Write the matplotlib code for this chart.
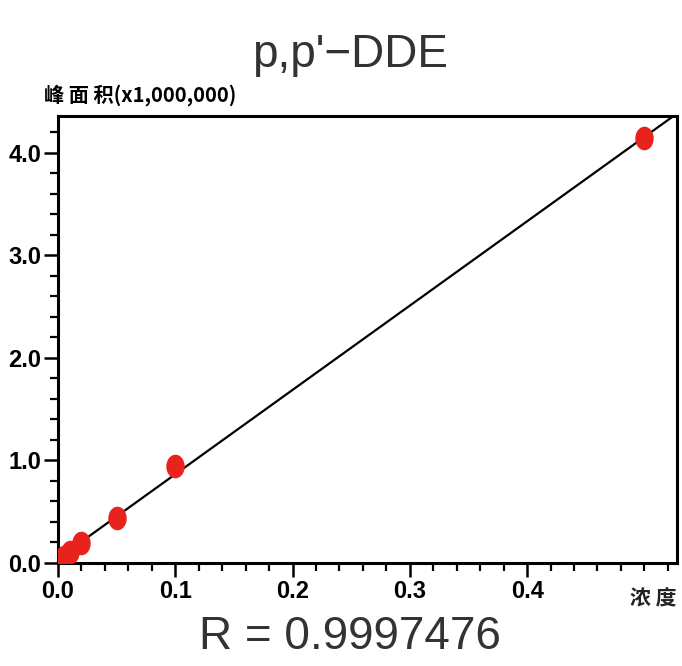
import numpy as np
import matplotlib
matplotlib.use("Agg")
import matplotlib.pyplot as plt
from matplotlib.path import Path
from matplotlib.transforms import Affine2D
from matplotlib.ticker import MultipleLocator, FormatStrFormatter

# calibration data: concentration vs. peak area (x1,000,000)
concentration = [0.005, 0.01, 0.02, 0.05, 0.1, 0.5]
peak_area = [0.06, 0.11, 0.19, 0.44, 0.95, 4.14]
x_ticks = [0.0, 0.1, 0.2, 0.3, 0.4]
y_ticks = [0.0, 1.0, 2.0, 3.0, 4.0]
title = "p,p'\u2212DDE"
r_text = "R = 0.9997476"
y_label = "峰 面 积(x1,000,000)"
x_label = "浓 度"

cjk = ["Noto Sans CJK SC", "DejaVu Sans"]
narrow = ["Liberation Sans Narrow", "Liberation Sans", "DejaVu Sans"]

fig = plt.figure(figsize=(6.82, 6.66), dpi=100)
ax = fig.add_axes([0.085, 0.1547, 0.908, 0.6713])

# least-squares calibration line
slope, intercept = np.polyfit(concentration, peak_area, 1)
xl = np.array([0.0, 0.528])
ax.plot(xl, slope * xl + intercept, color="black", lw=1.6, zorder=2)

# vertically stretched ellipse marker
ell = Path.unit_circle().transformed(Affine2D().scale(0.78, 1.0))
ax.plot(concentration, peak_area, linestyle="none", marker=ell,
        markersize=17, color="#e8231e", markeredgewidth=0, zorder=3)

ax.set_xlim(0, 0.528)
ax.set_ylim(0, 4.36)
ax.set_xticks(x_ticks)
ax.set_yticks(y_ticks)
ax.xaxis.set_minor_locator(MultipleLocator(0.02))
ax.yaxis.set_minor_locator(MultipleLocator(0.2))
ax.xaxis.set_major_formatter(FormatStrFormatter("%.1f"))
ax.yaxis.set_major_formatter(FormatStrFormatter("%.1f"))
ax.tick_params(which="major", direction="out", length=10, width=1.8, pad=2)
ax.tick_params(which="minor", direction="out", length=6, width=1.6)
for lab in ax.get_xticklabels() + ax.get_yticklabels():
    lab.set_family(narrow)
    lab.set_fontweight("bold")
    lab.set_fontsize(17)
for s in ax.spines.values():
    s.set_linewidth(2.2)

fig.text(0.513, 0.917, title, ha="center", va="center", fontsize=33,
         family=["Liberation Sans", "DejaVu Sans"], color="#333333")
fig.text(0.513, 0.043, r_text, ha="center", va="center", fontsize=33,
         family=["Liberation Sans", "DejaVu Sans"], color="#333333")
fig.text(0.065, 0.857, y_label, ha="left", va="center", fontsize=14.5,
         fontweight="bold", family=["Noto Sans CJK SC", "DejaVu Sans"])
fig.text(0.992, 0.1, x_label, ha="right", va="center", fontsize=15,
         fontweight="bold", family=cjk, color="#222222")

fig.savefig("out.png", dpi=100, facecolor="white")
